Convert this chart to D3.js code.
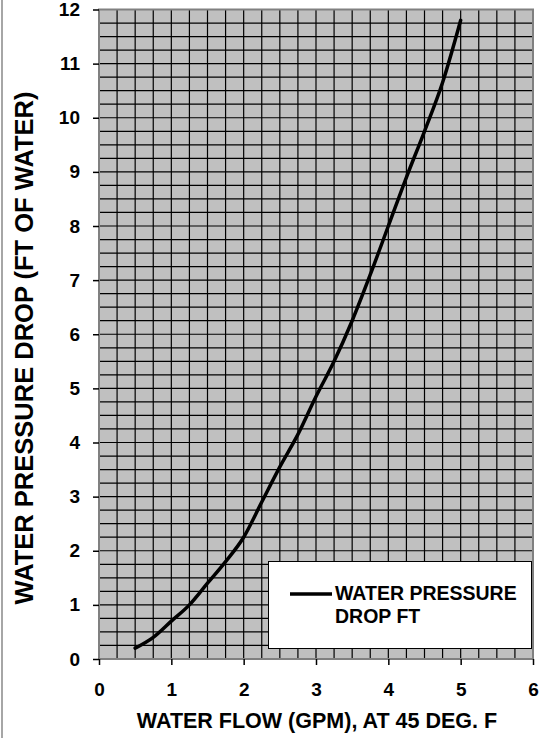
<!DOCTYPE html>
<html>
<head>
<meta charset="utf-8">
<script src="https://cdn.jsdelivr.net/npm/d3@7"></script>
<style>
  body { margin: 0; background: #fff; }
  svg { display: block; }
  text { font-family: "Liberation Sans", Arial, sans-serif; font-weight: bold; fill: #000; }
</style>
</head>
<body>
<div id="chart"></div>
<script>
// water flow (gpm) and pressure drop (ft of water)
const flowGpm = [0.5, 0.75, 1.0, 1.25, 1.5, 1.75, 2.0, 2.25, 2.5, 2.75, 3.0, 3.25, 3.5, 3.75, 4.0, 4.25, 4.5, 4.75, 5.0];
const dropFt = [0.2, 0.4, 0.7, 1.0, 1.4, 1.8, 2.25, 2.9, 3.55, 4.15, 4.85, 5.5, 6.25, 7.1, 8.0, 8.9, 9.75, 10.65, 11.8];
const xTicks = [0, 1, 2, 3, 4, 5, 6];
const yTicks = [0, 1, 2, 3, 4, 5, 6, 7, 8, 9, 10, 11, 12];
const seriesName = ["WATER PRESSURE", "DROP FT"];

const width = 546, height = 738;
const plot = {left: 99, right: 533, top: 9.5, bottom: 659};

const svg = d3.select("#chart").append("svg")
	.attr("width", width)
	.attr("height", height);

// outer frame (only the left edge shows)
svg.append("line")
	.attr("x1", 2).attr("x2", 2).attr("y1", 0).attr("y2", height)
	.attr("stroke", "#888").attr("stroke-width", 1.5);

let x = d3.scaleLinear().domain([0, 6]).range([plot.left, plot.right]);
let y = d3.scaleLinear().domain([0, 12]).range([plot.bottom, plot.top]);

svg.append("rect")
	.attr("x", plot.left).attr("y", plot.top)
	.attr("width", plot.right - plot.left).attr("height", plot.bottom - plot.top)
	.attr("fill", "#c0c0c0");

// grid every 0.25
let grid = svg.append("g").attr("stroke", "#000").attr("stroke-width", 1.2);
d3.range(0.25, 6, 0.25).forEach(function (v) {
	grid.append("line")
		.attr("x1", x(v)).attr("x2", x(v))
		.attr("y1", plot.top).attr("y2", plot.bottom);
});
d3.range(0.25, 12, 0.25).forEach(function (v) {
	grid.append("line")
		.attr("x1", plot.left).attr("x2", plot.right)
		.attr("y1", y(v)).attr("y2", y(v));
});

// plot frame
svg.append("rect")
	.attr("x", plot.left).attr("y", plot.top)
	.attr("width", plot.right - plot.left).attr("height", plot.bottom - plot.top)
	.attr("fill", "none").attr("stroke", "#808080").attr("stroke-width", 2);

// axes
let xAxis = svg.append("g")
	.attr("transform", "translate(0," + plot.bottom + ")")
	.call(d3.axisBottom(x).tickValues(xTicks).tickFormat(d3.format("d")).tickSize(6).tickPadding(18));
let yAxis = svg.append("g")
	.attr("transform", "translate(" + plot.left + ",0)")
	.call(d3.axisLeft(y).tickValues(yTicks).tickFormat(d3.format("d")).tickSize(6).tickPadding(13));

[xAxis, yAxis].forEach(function (a) {
	a.select(".domain").remove();
	a.selectAll(".tick line").attr("stroke", "#000").attr("stroke-width", 1.5);
	a.selectAll(".tick text")
		.attr("font-family", "Liberation Sans, Arial, sans-serif")
		.attr("font-weight", "bold")
		.attr("font-size", 19)
		.attr("fill", "#000");
});

// axis titles
svg.append("text")
	.attr("x", 317)
	.attr("y", 728)
	.attr("text-anchor", "middle")
	.attr("font-size", 21.5)
	.text("WATER FLOW (GPM), AT 45 DEG. F");

svg.append("text")
	.attr("transform", "translate(33,348) rotate(-90)")
	.attr("text-anchor", "middle")
	.attr("font-size", 25.5)
	.text("WATER PRESSURE DROP (FT OF WATER)");

// curve
let line = d3.line()
	.x(function (d, i) { return x(flowGpm[i]); })
	.y(function (d) { return y(d); })
	.curve(d3.curveMonotoneX);

svg.append("path")
	.datum(dropFt)
	.attr("d", line)
	.attr("fill", "none")
	.attr("stroke", "#000")
	.attr("stroke-width", 3.5)
	.attr("stroke-linejoin", "round")
	.attr("stroke-linecap", "round");

// legend
let legend = svg.append("g").attr("id", "legend");
legend.append("rect")
	.attr("x", 268.5).attr("y", 561.5)
	.attr("width", 263).attr("height", 87)
	.attr("fill", "#fff").attr("stroke", "#000").attr("stroke-width", 1);
legend.append("line")
	.attr("x1", 290).attr("x2", 332).attr("y1", 594).attr("y2", 594)
	.attr("stroke", "#000").attr("stroke-width", 3.5);
legend.selectAll("text.leg")
	.data(seriesName)
	.enter().append("text")
	.attr("class", "leg")
	.attr("x", 335)
	.attr("y", function (d, i) { return 600 + i * 23; })
	.attr("font-size", 19.5)
	.text(function (d) { return d; });
</script>
</body>
</html>
